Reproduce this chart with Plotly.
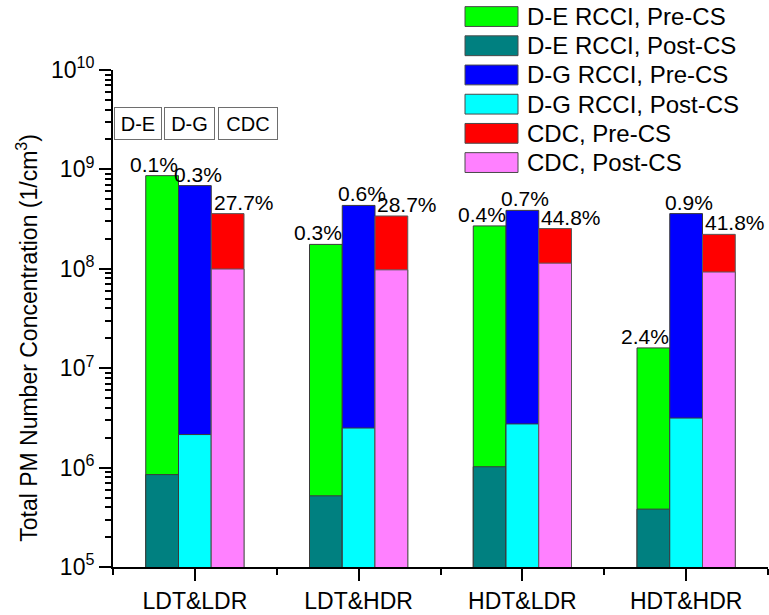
import numpy as np
import plotly.graph_objects as go

# ---- data -------------------------------------------------------------
categories = ["LDT&LDR", "LDT&HDR", "HDT&LDR", "HDT&HDR"]

de_pre = [8.65e8, 1.76e8, 2.70e8, 1.60e7]
de_post = [8.5e5, 5.2e5, 1.02e6, 3.82e5]
dg_pre = [6.87e8, 4.34e8, 3.87e8, 3.59e8]
dg_post = [2.15e6, 2.5e6, 2.75e6, 3.15e6]
cdc_pre = [3.59e8, 3.40e8, 2.54e8, 2.22e8]
cdc_post = [9.95e7, 9.76e7, 1.14e8, 9.28e7]

de_pct = ["0.1%", "0.3%", "0.4%", "2.4%"]
dg_pct = ["0.3%", "0.6%", "0.7%", "0.9%"]
cdc_pct = ["27.7%", "28.7%", "44.8%", "41.8%"]

y_ticks = [1e5, 1e6, 1e7, 1e8, 1e9, 1e10]
y_ticktext = ["10<sup>%d</sup>" % round(np.log10(v)) for v in y_ticks]

# ---- styling ----------------------------------------------------------
FONT = "Arial, Liberation Sans, sans-serif"
W, H = 769, 615
ML, MR, MT, MB = 113, 1, 70, 43
PW, PH = W - ML - MR, H - MT - MB

groups = [
    dict(tag="D-E", pre=de_pre, post=de_post, pct=de_pct,
         pre_name="D-E RCCI, Pre-CS", post_name="D-E RCCI, Post-CS",
         pre_color="#00FF00", post_color="#008080", slot=-1, shift=-8,
         edge="#3a3a3a"),
    dict(tag="D-G", pre=dg_pre, post=dg_post, pct=dg_pct,
         pre_name="D-G RCCI, Pre-CS", post_name="D-G RCCI, Post-CS",
         pre_color="#0000FF", post_color="#00FFFF", slot=0, shift=3,
         edge="#3a3a3a"),
    dict(tag="CDC", pre=cdc_pre, post=cdc_post, pct=cdc_pct,
         pre_name="CDC, Pre-CS", post_name="CDC, Post-CS",
         pre_color="#FF0000", post_color="#FF80FF", slot=1, shift=16,
         edge="#5a5a5a"),
]
BAR_W = 0.2
xpos = np.arange(len(categories))

fig = go.Figure()
for g in groups:
    off = g["slot"] * BAR_W - BAR_W / 2
    for key, name, color in (("pre", g["pre_name"], g["pre_color"]),
                             ("post", g["post_name"], g["post_color"])):
        fig.add_trace(go.Bar(
            x=xpos, y=g[key], name=name, width=BAR_W, offset=off,
            marker=dict(color=color, line=dict(color=g["edge"], width=1)),
            showlegend=False,
        ))

annotations = []
# percentage labels above the Pre-CS bars
for g in groups:
    for i, (v, t) in enumerate(zip(g["pre"], g["pct"])):
        annotations.append(dict(
            x=xpos[i] + g["slot"] * BAR_W, y=np.log10(v), xref="x", yref="y",
            text=t, showarrow=False, xanchor="center", yanchor="bottom",
            xshift=g["shift"], yshift=-2,
            font=dict(family=FONT, size=21, color="black"),
        ))


def px_x(p):
    return (p - ML) / PW


def px_y(p):
    return (H - MB - p) / PH


# boxed series tags at the upper left
box_specs = [(138.3, 44), (189.7, 47), (248.4, 56)]
for g, (cx, bw) in zip(groups, box_specs):
    annotations.append(dict(
        x=px_x(cx), y=px_y(123.7), xref="paper", yref="paper",
        text=g["tag"], showarrow=False, xanchor="center", yanchor="middle",
        width=bw, height=29, borderpad=1, borderwidth=1, bordercolor="#6e6e6e",
        bgcolor="white", font=dict(family=FONT, size=20, color="black"),
    ))

# y-axis title
annotations.append(dict(
    x=px_x(27.5), y=px_y(341), xref="paper", yref="paper",
    text="Total PM Number Concentration (1/cm<sup>3</sup>)", textangle=-90,
    showarrow=False, xanchor="center", yanchor="middle",
    font=dict(family=FONT, size=23, color="black"),
))

# legend drawn as swatches + labels
shapes = []
entries = []
for g in groups:
    entries.append((g["pre_name"], g["pre_color"]))
    entries.append((g["post_name"], g["post_color"]))
for k, (name, color) in enumerate(entries):
    cy = 16 + k * 29.5
    shapes.append(dict(
        type="rect", xref="paper", yref="paper",
        x0=px_x(465), x1=px_x(518), y0=px_y(cy + 10), y1=px_y(cy - 10),
        fillcolor=color, line=dict(color="#4a4a4a", width=1),
    ))
    annotations.append(dict(
        x=px_x(525), y=px_y(cy), xref="paper", yref="paper", text=name,
        showarrow=False, xanchor="left", yanchor="middle",
        font=dict(family=FONT, size=24, color="black"),
    ))

fig.update_layout(
    width=W, height=H, barmode="overlay",
    margin=dict(l=ML, r=MR, t=MT, b=MB, pad=0),
    paper_bgcolor="white", plot_bgcolor="white",
    font=dict(family=FONT, color="black"),
    annotations=annotations, shapes=shapes, showlegend=False,
    xaxis=dict(
        range=[-0.5, 3.5], tickvals=xpos, ticktext=categories,
        showline=True, linecolor="black", linewidth=2, mirror=False,
        ticks="outside", ticklen=12, tickwidth=2, tickcolor="black",
        tickfont=dict(family=FONT, size=23, color="black"),
        showgrid=False, zeroline=False,
        minor=dict(tick0=0.5, dtick=1, ticks="outside", ticklen=6,
                   tickwidth=2, tickcolor="black", showgrid=False),
    ),
    yaxis=dict(
        type="log", range=[5, 10], tickvals=y_ticks, ticktext=y_ticktext,
        showline=True, linecolor="black", linewidth=2,
        ticks="outside", ticklen=12, tickwidth=2, tickcolor="black",
        tickfont=dict(family=FONT, size=23, color="black"),
        showgrid=False, zeroline=False,
        minor=dict(dtick="D1", ticks="outside", ticklen=6, tickwidth=1.5,
                   tickcolor="black", showgrid=False),
    ),
)

fig.write_html("out.html")
